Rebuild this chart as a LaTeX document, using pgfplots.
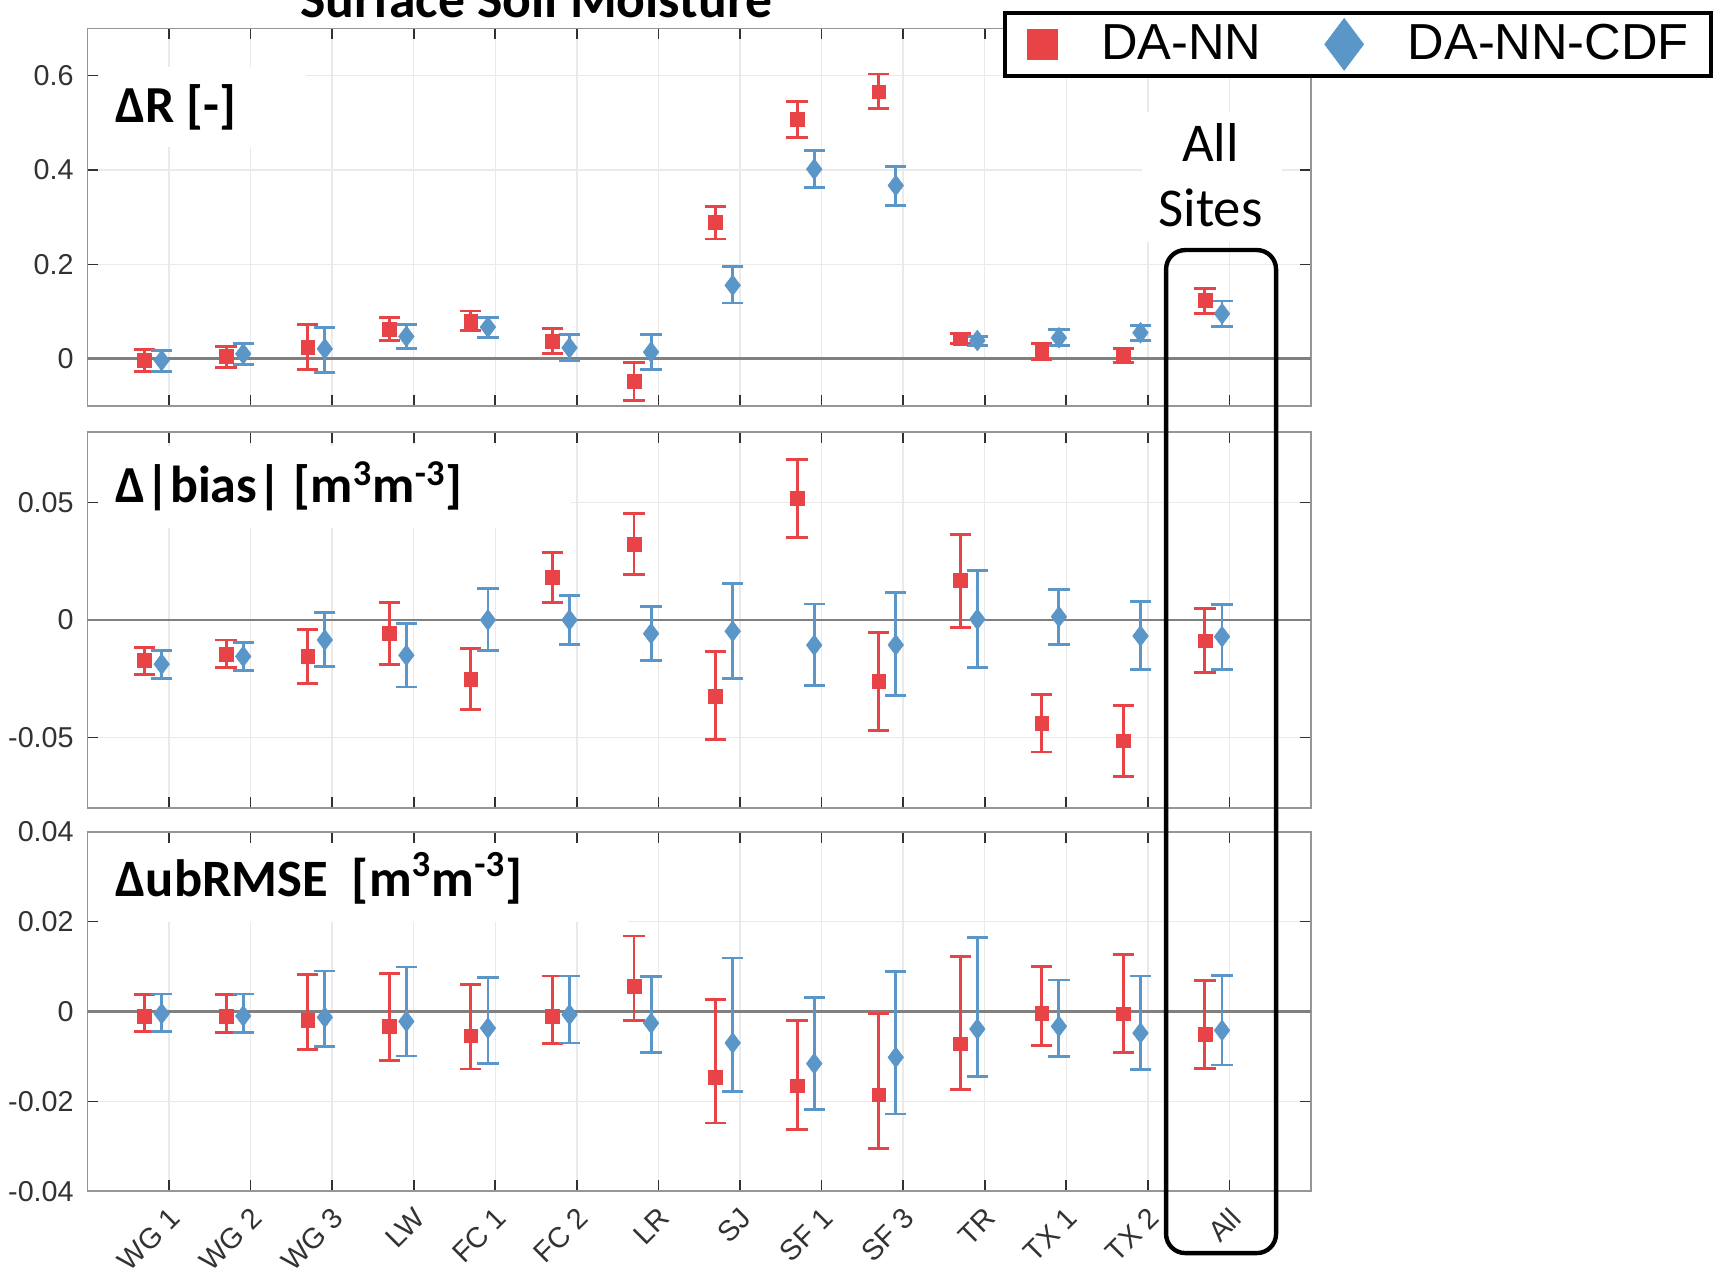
\documentclass[border=0pt]{standalone}
\usepackage{pgfplots}
\pgfplotsset{compat=1.18}
\usepackage{pgfplotstable}
\usepackage{fontspec}
\setmainfont{Liberation Sans}
\newfontfamily\calibri{Carlito}
\definecolor{myred}{RGB}{232,67,70}
\definecolor{myblue}{RGB}{90,150,200}
\definecolor{gridc}{RGB}{234,234,234}
\definecolor{framec}{RGB}{150,150,150}
\definecolor{tickc}{RGB}{50,50,50}

% Delta R
\pgfplotstableread{
x ry rlo rhi by blo bhi
1 -0.0035 -0.0262 0.0191 -0.0035 -0.0262 0.0177
2 0.0050 -0.0177 0.0262 0.0106 -0.0120 0.0318
3 0.0248 -0.0233 0.0729 0.0212 -0.0283 0.0672
4 0.0623 0.0389 0.0884 0.0474 0.0219 0.0722
5 0.0799 0.0601 0.1012 0.0672 0.0460 0.0870
6 0.0375 0.0106 0.0644 0.0233 -0.0035 0.0516
7 -0.0481 -0.0877 -0.0085 0.0142 -0.0219 0.0509
8 0.2887 0.2540 0.3233 0.1557 0.1182 0.1960
9 0.5073 0.4698 0.5448 0.4019 0.3629 0.4422
10 0.5660 0.5299 0.6035 0.3672 0.3255 0.4075
11 0.0425 0.0318 0.0531 0.0389 0.0283 0.0474
12 0.0163 -0.0021 0.0333 0.0446 0.0276 0.0616
13 0.0064 -0.0071 0.0212 0.0552 0.0389 0.0708
14 0.1238 0.0955 0.1486 0.0955 0.0686 0.1224
}\tabR

% Delta |bias|
\pgfplotstableread{
x ry rlo rhi by blo bhi
1 -0.0172 -0.0230 -0.0116 -0.0188 -0.0247 -0.0131
2 -0.0147 -0.0202 -0.0085 -0.0155 -0.0215 -0.0096
3 -0.0155 -0.0271 -0.0042 -0.0085 -0.0198 0.0031
4 -0.0056 -0.0191 0.0075 -0.0150 -0.0285 -0.0016
5 -0.0251 -0.0381 -0.0121 0.0000 -0.0130 0.0133
6 0.0182 0.0076 0.0285 0.0000 -0.0103 0.0104
7 0.0322 0.0195 0.0453 -0.0058 -0.0174 0.0058
8 -0.0325 -0.0508 -0.0134 -0.0048 -0.0247 0.0155
9 0.0517 0.0349 0.0683 -0.0107 -0.0280 0.0068
10 -0.0261 -0.0469 -0.0054 -0.0106 -0.0322 0.0116
11 0.0168 -0.0031 0.0363 0.0003 -0.0201 0.0212
12 -0.0438 -0.0561 -0.0318 0.0014 -0.0106 0.0131
13 -0.0513 -0.0665 -0.0363 -0.0068 -0.0210 0.0078
14 -0.0089 -0.0223 0.0047 -0.0071 -0.0209 0.0066
}\tabB

% Delta ubRMSE
\pgfplotstableread{
x ry rlo rhi by blo bhi
1 -0.0010 -0.0044 0.0038 -0.0005 -0.0044 0.0039
2 -0.0010 -0.0046 0.0038 -0.0010 -0.0046 0.0039
3 -0.0019 -0.0084 0.0082 -0.0013 -0.0078 0.0090
4 -0.0033 -0.0109 0.0085 -0.0022 -0.0099 0.0099
5 -0.0054 -0.0128 0.0060 -0.0037 -0.0115 0.0076
6 -0.0010 -0.0072 0.0079 -0.0007 -0.0070 0.0079
7 0.0056 -0.0020 0.0168 -0.0026 -0.0092 0.0077
8 -0.0146 -0.0248 0.0027 -0.0070 -0.0179 0.0119
9 -0.0165 -0.0263 -0.0021 -0.0116 -0.0219 0.0032
10 -0.0185 -0.0304 -0.0004 -0.0102 -0.0228 0.0089
11 -0.0072 -0.0174 0.0122 -0.0039 -0.0144 0.0164
12 -0.0004 -0.0076 0.0100 -0.0033 -0.0101 0.0070
13 -0.0005 -0.0092 0.0127 -0.0048 -0.0130 0.0079
14 -0.0051 -0.0127 0.0069 -0.0042 -0.0119 0.0081
}\tabU

\pgfplotsset{
  panel/.style={
    scale only axis, width=447.2pt, anchor=south west,
    xmin=0, xmax=15, xtick={1,...,14},
    tick align=inside, major tick length=4pt,
    grid=major, major grid style={gridc, line width=0.5pt},
    axis line style={framec, line width=0.6pt},
    every tick/.append style={tickc, line width=0.6pt},
    tick label style={font=\fontsize{10.5}{12}\selectfont, text=tickc},
    yticklabel style={xshift=-1.5pt},
    /pgf/number format/assume math mode=true,
    scaled y ticks=false,
  },
  redser/.style={only marks, mark=square*, mark size=2.5pt, color=myred,
    mark options={draw=myred, fill=myred, line width=0.2pt},
    error bars/y dir=both, error bars/y explicit,
    error bars/error bar style={line width=1.05pt, myred},
    error bars/error mark options={rotate=90, mark size=3.9pt, line width=1.05pt, myred}},
  blueser/.style={only marks, mark=diamond*, mark size=3.8pt, color=myblue,
    mark options={draw=myblue, fill=myblue, line width=0.2pt},
    error bars/y dir=both, error bars/y explicit,
    error bars/error bar style={line width=1.05pt, myblue},
    error bars/error mark options={rotate=90, mark size=3.9pt, line width=1.05pt, myblue}},
}

\newcommand{\plotpanel}[1]{%
  \addplot[black!50, line width=1pt, forget plot] coordinates {(0,0) (15,0)};
  \addplot[forget plot, redser] table[x expr=\thisrow{x}-0.30, y=ry,
     y error plus expr=\thisrow{rhi}-\thisrow{ry},
     y error minus expr=\thisrow{ry}-\thisrow{rlo}] {#1};
  \addplot[forget plot, blueser] table[x expr=\thisrow{x}-0.09, y=by,
     y error plus expr=\thisrow{bhi}-\thisrow{by},
     y error minus expr=\thisrow{by}-\thisrow{blo}] {#1};
}

\begin{document}
\begin{tikzpicture}
\path[use as bounding box] (0,0) rectangle (627.2pt,464pt);
\clip (0,0) rectangle (627.2pt,464pt);

% Panel 1
\begin{axis}[panel, at={(31.96pt,315.6pt)}, height=138pt,
  ymin=-0.1, ymax=0.7, ytick={0,0.2,0.4,0.6}, yticklabels={0,0.2,0.4,0.6},
  xticklabels={},
  legend columns=2,
  legend style={at={(0.7485,1.0464)}, anchor=north west, draw=black, line width=1.4pt,
    font=\fontsize{18.5}{20}\selectfont, inner xsep=8pt, inner ysep=2pt,
    nodes={inner xsep=0pt, inner ysep=2pt},
    /tikz/every even column/.append style={column sep=23.1pt},
    /tikz/every odd column/.append style={column sep=16.1pt}},
]
\plotpanel{\tabR}
\fill[white] ([xshift=4.3pt]rel axis cs:0,0.687) rectangle (rel axis cs:0.179,0.898);
\fill[white] (rel axis cs:0.8615,0.435) rectangle (rel axis cs:0.976,0.779);
\addlegendimage{only marks, mark=square*, mark size=5.5pt, color=myred, mark options={line width=0.2pt}}
\addlegendentry{DA-NN}
\addlegendimage{only marks, mark=diamond*, mark size=9.5pt, color=myblue, mark options={line width=0.2pt}}
\addlegendentry{DA-NN-CDF}
\end{axis}

% Panel 2
\begin{axis}[panel, at={(31.96pt,168.6pt)}, height=137.6pt,
  ymin=-0.08, ymax=0.08, ytick={-0.05,0,0.05}, yticklabels={-0.05,0,0.05},
  xticklabels={},
]
\plotpanel{\tabB}
\fill[white] ([xshift=4.3pt]rel axis cs:0,0.743) rectangle (rel axis cs:0.395,0.961);
\end{axis}

% Panel 3
\begin{axis}[panel, at={(31.96pt,28.6pt)}, height=131.4pt,
  ymin=-0.04, ymax=0.04, ytick={-0.04,-0.02,0,0.02,0.04},
  yticklabels={-0.04,-0.02,0,0.02,0.04},
  xticklabels={WG 1,WG 2,WG 3,LW,FC 1,FC 2,LR,SJ,SF 1,SF 3,TR,TX 1,TX 2,All},
  xticklabel style={xshift=-0.5pt, yshift=-3.8pt, rotate=45, anchor=north east,
    inner sep=1pt, font=\fontsize{10.5}{12}\selectfont},
]
\plotpanel{\tabU}
\fill[white] ([xshift=4.3pt]rel axis cs:0,0.749) rectangle (rel axis cs:0.442,0.970);
\end{axis}

% Annotations
\node[anchor=base, inner sep=0pt, font=\calibri\bfseries\fontsize{19.6}{22}\selectfont]
  at (196pt,457.7pt) {Surface Soil Moisture};
\node[anchor=base west, inner sep=0pt, font=\calibri\bfseries\fontsize{19}{22}\selectfont]
  at (42pt,419.2pt) {ΔR [-]};
\node[anchor=base west, inner sep=0pt, font=\calibri\bfseries\fontsize{19}{22}\selectfont]
  at (42pt,280.3pt) {Δ|bias| [m\textsuperscript{3}m\textsuperscript{-3}]};
\node[anchor=base west, inner sep=0pt, font=\calibri\bfseries\fontsize{19.2}{22}\selectfont]
  at (42pt,136.2pt) {ΔubRMSE\ \ [m\textsuperscript{3}m\textsuperscript{-3}]};
\node[anchor=base, inner sep=0pt, font=\calibri\fontsize{20}{22}\selectfont]
  at (442.4pt,404.8pt) {All};
\node[anchor=base, inner sep=0pt, font=\calibri\fontsize{20}{22}\selectfont]
  at (442.4pt,381.2pt) {Sites};
\draw[line width=1.6pt, rounded corners=7pt] (426.2pt,6pt) rectangle (466.4pt,372.6pt);
\end{tikzpicture}
\end{document}
